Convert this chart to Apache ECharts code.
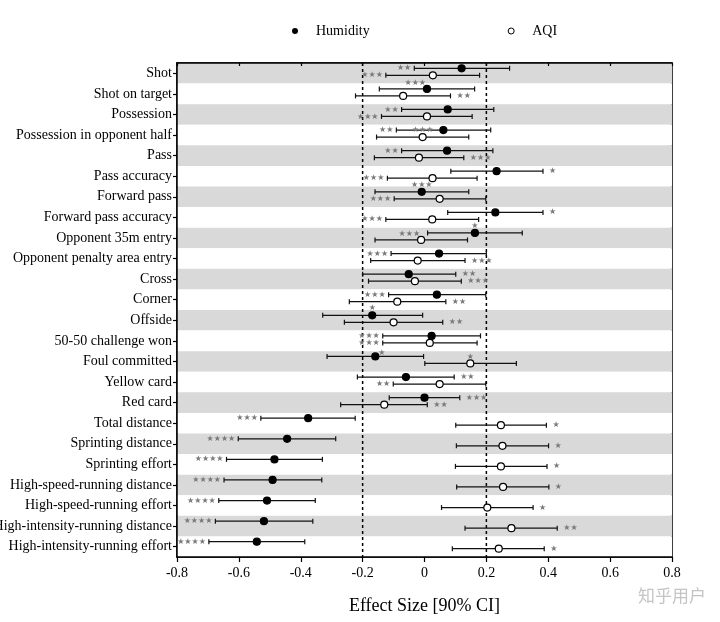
<!DOCTYPE html>
<html><head><meta charset="utf-8">
<script src="https://cdn.jsdelivr.net/npm/echarts@6/dist/echarts.min.js"></script>
<style>html,body{margin:0;padding:0;background:#fff}#c{width:720px;height:622px}</style>
</head><body><div id="c"></div>
<script>
const categories = ['Shot','Shot on target','Possession','Possession in opponent half','Pass','Pass accuracy','Forward pass','Forward pass accuracy','Opponent 35m entry','Opponent penalty area entry','Cross','Corner','Offside','50-50 challenge won','Foul committed','Yellow card','Red card','Total distance','Sprinting distance','Sprinting effort','High-speed-running distance','High-speed-running effort','High-intensity-running distance','High-intensity-running effort'];

const humMean = [0.12,0.008,0.075,0.061,0.073,0.233,-0.009,0.229,0.163,0.047,-0.051,0.04,-0.169,0.023,-0.159,-0.06,0.0,-0.376,-0.444,-0.485,-0.491,-0.509,-0.519,-0.542];
const humLow  = [-0.033,-0.146,-0.074,-0.091,-0.074,0.085,-0.16,0.075,0.01,-0.108,-0.2,-0.116,-0.329,-0.135,-0.315,-0.217,-0.114,-0.529,-0.602,-0.64,-0.648,-0.665,-0.676,-0.697];
const humHigh = [0.275,0.162,0.224,0.214,0.221,0.383,0.143,0.383,0.316,0.2,0.101,0.198,-0.006,0.181,-0.003,0.096,0.114,-0.224,-0.287,-0.33,-0.332,-0.353,-0.361,-0.387];
const humStars = [2,3,2,2,2,1,3,1,1,3,2,3,1,3,1,2,3,3,4,4,4,4,4,4];
const humStarPos = ['L','TL','L','L','L','R','T','R','T','L','R','L','T','L','TR','R','R','L','L','L','L','L','L','L'];

const aqiMean = [0.027,-0.069,0.008,-0.006,-0.018,0.026,0.049,0.025,-0.011,-0.022,-0.031,-0.088,-0.1,0.017,0.148,0.049,-0.13,0.247,0.252,0.247,0.254,0.203,0.281,0.24];
const aqiLow  = [-0.125,-0.223,-0.139,-0.155,-0.162,-0.12,-0.098,-0.125,-0.16,-0.174,-0.181,-0.243,-0.259,-0.135,0.001,-0.101,-0.271,0.101,0.103,0.1,0.104,0.055,0.131,0.09];
const aqiHigh = [0.178,0.084,0.154,0.143,0.127,0.17,0.198,0.175,0.139,0.131,0.119,0.069,0.059,0.17,0.297,0.198,0.009,0.394,0.401,0.396,0.402,0.351,0.429,0.387];
const aqiStars = [3,2,3,3,3,3,3,3,3,3,3,2,2,3,1,2,2,1,1,1,1,1,2,1];
const aqiStarPos = ['L','R','L','T','R','L','L','L','TL','R','R','R','R','L','T','L','R','R','R','R','R','R','R','R'];

const xTicks = [-0.8,-0.6,-0.4,-0.2,0,0.2,0.4,0.6,0.8];
const refLines = [-0.2, 0.2];

const SERIF = '"Liberation Serif","Times New Roman",serif';

function makeData(lo, mid, hi) {
  return categories.map((c, i) => [lo[i], mid[i], hi[i], i]);
}

function makeRender(offset, filled, stars, pos) {
  return function (params, api) {
    const cat = api.value(3);
    const lo = api.coord([api.value(0), cat]);
    const mid = api.coord([api.value(1), cat]);
    const hi = api.coord([api.value(2), cat]);
    const y = mid[1] + offset;
    const children = [
      { type: 'line', shape: { x1: lo[0], y1: y, x2: hi[0], y2: y }, style: { stroke: '#111', lineWidth: 1.3 } },
      { type: 'line', shape: { x1: lo[0], y1: y - 2.5, x2: lo[0], y2: y + 2.5 }, style: { stroke: '#111', lineWidth: 1.2 } },
      { type: 'line', shape: { x1: hi[0], y1: y - 2.5, x2: hi[0], y2: y + 2.5 }, style: { stroke: '#111', lineWidth: 1.2 } },
      { type: 'circle', shape: { cx: mid[0], cy: y, r: 3.5 }, style: { fill: filled ? '#000' : '#fff', stroke: '#000', lineWidth: 1.2 } }
    ];
    const n = stars[params.dataIndex];
    const p = pos[params.dataIndex];
    const txt = '★'.repeat(n);
    let sx, sy = y, align = 'center';
    if (p === 'L') { sx = lo[0] - 3; align = 'right'; }
    else if (p === 'R') { sx = hi[0] + 6; align = 'left'; }
    else if (p === 'T') { sx = mid[0]; sy = y - 7; align = 'center'; }
    else if (p === 'TL') { sx = mid[0] - 1; sy = y - 6; align = 'right'; }
    else if (p === 'TR') { sx = mid[0] + 3; sy = y - 4; align = 'left'; }
    children.push({ type: 'text', style: { text: txt, x: sx, y: sy, fill: '#7a7a7a', font: '8px "DejaVu Sans"', textAlign: align, textVerticalAlign: 'middle' } });
    return { type: 'group', children };
  };
}

function renderRefLine(params, api) {
  const cs = params.coordSys;
  const p = api.coord([api.value(0), 0]);
  return { type: 'line', shape: { x1: p[0], y1: cs.y, x2: p[0], y2: cs.y + cs.height }, style: { stroke: '#000', lineWidth: 1.5, lineDash: [3, 3] } };
}

const chart = echarts.init(document.getElementById('c'), null, { renderer: 'canvas' });
chart.setOption({
  animation: false,
  backgroundColor: '#fff',
  legend: {
    left: 287, top: 19, itemWidth: 6, itemHeight: 6, itemGap: 138,
    textStyle: { fontFamily: SERIF, fontSize: 14, color: '#000', padding: [0, 0, 0, 13] },
    data: [
      { name: 'Humidity', icon: 'circle', itemStyle: { color: '#000', borderWidth: 0 } },
      { name: 'AQI', icon: 'circle', itemStyle: { color: '#fff', borderColor: '#000', borderWidth: 1 } }
    ]
  },
  grid: { left: 177, right: 48, top: 63, bottom: 65, outerBoundsMode: 'none', containLabel: false, show: true, borderColor: '#000', borderWidth: 1.5, backgroundColor: 'transparent' },
  xAxis: [{
    type: 'value', min: xTicks[0], max: xTicks[xTicks.length - 1], interval: 0.2,
    name: 'Effect Size [90% CI]', nameLocation: 'middle', nameGap: 40,
    nameTextStyle: { fontFamily: SERIF, fontSize: 18, color: '#000' },
    axisLine: { show: true, onZero: false, lineStyle: { color: '#000', width: 1.5 } },
    axisTick: { show: true, length: 5, lineStyle: { color: '#000', width: 1.2 } },
    axisLabel: { fontFamily: SERIF, fontSize: 14, color: '#000', margin: 9, formatter: v => (Math.abs(v) < 1e-9 ? '0' : (+v.toFixed(1)).toString()) },
    splitLine: { show: false }
  }, {
    type: 'value', position: 'top', min: xTicks[0], max: xTicks[xTicks.length - 1], interval: 0.2,
    axisLine: { show: true, onZero: false, lineStyle: { color: '#000', width: 1.5 } },
    axisTick: { show: true, inside: true, length: 3, lineStyle: { color: '#000', width: 1.2 } },
    axisLabel: { show: false }, splitLine: { show: false }
  }],
  yAxis: {
    type: 'category', inverse: true, data: categories,
    axisLine: { show: true, onZero: false, lineStyle: { color: '#000', width: 1.5 } },
    axisTick: { show: true, alignWithLabel: true, length: 4, lineStyle: { color: '#000', width: 1.2 } },
    axisLabel: { fontFamily: SERIF, fontSize: 14, color: '#000', margin: 5, interval: 0 },
    splitLine: { show: false },
    splitArea: { show: true, interval: 0, areaStyle: { color: ['#d9d9d9', '#ffffff'] } }
  },
  series: [{
    name: 'refLines', type: 'custom', xAxisIndex: 0, yAxisIndex: 0, silent: true,
    renderItem: renderRefLine,
    encode: { x: 0 },
    data: refLines.map(v => [v]),
    z: 1
  }, {
    name: 'Humidity', type: 'custom', xAxisIndex: 0, yAxisIndex: 0,
    itemStyle: { color: '#000' },
    renderItem: makeRender(-5, true, humStars, humStarPos),
    encode: { x: [0, 1, 2], y: 3 },
    data: makeData(humLow, humMean, humHigh),
    z: 3
  }, {
    name: 'AQI', type: 'custom', xAxisIndex: 0, yAxisIndex: 0,
    itemStyle: { color: '#fff', borderColor: '#000' },
    renderItem: makeRender(2, false, aqiStars, aqiStarPos),
    encode: { x: [0, 1, 2], y: 3 },
    data: makeData(aqiLow, aqiMean, aqiHigh),
    z: 3
  }],
  graphic: [{
    type: 'text', left: 638, top: 587,
    style: { text: '知乎用户', fill: '#c4c4c4', font: '17px "Noto Sans CJK SC"' }
  }]
});
</script></body></html>
